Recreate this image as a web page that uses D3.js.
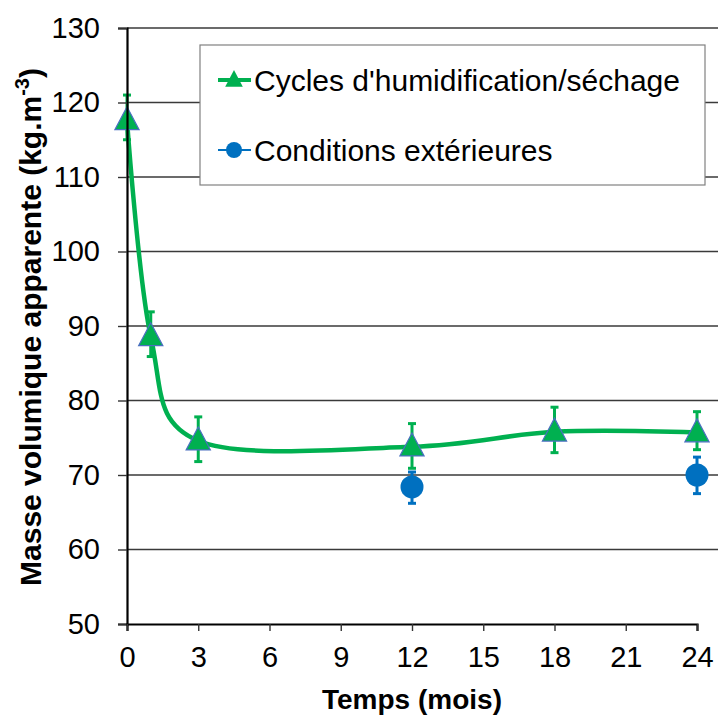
<!DOCTYPE html>
<html><head><meta charset="utf-8">
<script src="https://cdn.jsdelivr.net/npm/d3@7"></script>
<style>body{margin:0;background:#fff}svg{display:block;font-family:"Liberation Sans",Arial,sans-serif}</style>
</head><body>
<script>
// Data
const monthsCycles = [0, 1, 3, 12, 18, 24];
const valuesCycles = [117.6, 88.6, 74.6, 73.8, 75.8, 75.7];
const errLowCycles = [115, 85.9, 71.8, 70.9, 73.0, 73.4];
const errHighCycles = [121.0, 91.9, 77.8, 76.9, 79.1, 78.5];
const monthsExt = [12, 24];
const valuesExt = [68.4, 70.0];
const errLowExt = [66.2, 67.5];
const errHighExt = [70.4, 72.4];
const xTicks = [0, 3, 6, 9, 12, 15, 18, 21, 24];
const yTicks = [50, 60, 70, 80, 90, 100, 110, 120, 130];
const seriesNames = ["Cycles d'humidification/séchage", "Conditions extérieures"];

const W = 718, H = 715;
const green = "#00b050", blue = "#0070c0", edge = "#4a6fc0";
const svg = d3.select("body").append("svg").attr("width", W).attr("height", H);
const x = d3.scaleLinear().domain([0, 24]).range([127, 697]);
const y = d3.scaleLinear().domain([50, 130]).range([624, 28]);

// grid
svg.append("g").selectAll("line").data(yTicks.filter(v => v > 50)).join("line")
  .attr("x1", x(0)).attr("x2", W).attr("y1", d => y(d)).attr("y2", d => y(d))
  .attr("stroke", "#3a3a3a").attr("stroke-width", 1.6);

// curve
const pts = monthsCycles.map((m, i) => [x(m), y(valuesCycles[i])]);
svg.append("path").attr("d", d3.line().curve(d3.curveCardinal.tension(0))(pts))
  .attr("fill", "none").attr("stroke", green).attr("stroke-width", 4.5);

function errBars(months, lo, hi, color) {
  const g = svg.append("g").attr("stroke", color).attr("stroke-width", 3);
  months.forEach((m, i) => {
    g.append("line").attr("x1", x(m)).attr("x2", x(m)).attr("y1", y(lo[i])).attr("y2", y(hi[i]));
    [lo[i], hi[i]].forEach(v => g.append("line").attr("x1", x(m) - 4).attr("x2", x(m) + 4).attr("y1", y(v)).attr("y2", y(v)));
  });
}
errBars(monthsCycles, errLowCycles, errHighCycles, green);
errBars(monthsExt, errLowExt, errHighExt, blue);

const tri = (s) => `M0,${-s*0.62}L${s*0.55},${s*0.42}L${-s*0.55},${s*0.42}Z`;
svg.append("g").selectAll("path").data(monthsCycles).join("path")
  .attr("d", tri(22)).attr("transform", (m, i) => `translate(${x(m)},${y(valuesCycles[i])})`)
  .attr("fill", green).attr("stroke", edge).attr("stroke-width", 1.2);
svg.append("g").selectAll("circle").data(monthsExt).join("circle")
  .attr("cx", m => x(m)).attr("cy", (m, i) => y(valuesExt[i])).attr("r", 11.5)
  .attr("fill", blue);

// axes
const yAxis = svg.append("g").attr("transform", `translate(${x(0)},0)`)
  .call(d3.axisLeft(y).tickValues(yTicks).tickSize(9).tickPadding(18));
const xAxis = svg.append("g").attr("transform", `translate(0,${y(50)})`)
  .call(d3.axisBottom(x).tickValues(xTicks).tickSize(7).tickPadding(15));
[yAxis, xAxis].forEach(a => {
  a.select(".domain").attr("stroke", "#000").attr("stroke-width", 2.2);
  a.selectAll(".tick line").attr("stroke", "#333").attr("stroke-width", 1.4);
  a.selectAll("text").attr("font-size", 29).attr("fill", "#000").attr("font-family", "Liberation Sans, Arial, sans-serif");
});

// titles
svg.append("text").attr("x", 412).attr("y", 709).attr("text-anchor", "middle")
  .attr("font-size", 28).attr("font-weight", "bold").text("Temps (mois)");
const yt = svg.append("text").attr("transform", "translate(41,327) rotate(-90)").attr("text-anchor", "middle")
  .attr("font-size", 30).attr("font-weight", "bold");
yt.append("tspan").text("Masse volumique apparente (kg.m");
yt.append("tspan").attr("dy", -12).attr("font-size", 20).text("-3");
yt.append("tspan").attr("dy", 12).text(")");

// legend
const lg = svg.append("g");
lg.append("rect").attr("x", 200).attr("y", 45).attr("width", 505).attr("height", 140)
  .attr("fill", "#fff").attr("stroke", "#808080").attr("stroke-width", 1.2);
const rows = [80, 150];
lg.append("line").attr("x1", 218).attr("x2", 251).attr("y1", rows[0]).attr("y2", rows[0]).attr("stroke", green).attr("stroke-width", 4);
lg.append("path").attr("d", tri(16)).attr("transform", `translate(234,${rows[0]})`).attr("fill", green);
lg.append("line").attr("x1", 218).attr("x2", 251).attr("y1", rows[1]).attr("y2", rows[1]).attr("stroke", blue).attr("stroke-width", 2);
lg.append("circle").attr("cx", 234).attr("cy", rows[1]).attr("r", 8).attr("fill", blue);
lg.selectAll("text").data(seriesNames).join("text")
  .attr("x", 254).attr("y", (d, i) => rows[i] + 11).attr("font-size", 30).text(d => d);
</script>
</body></html>
